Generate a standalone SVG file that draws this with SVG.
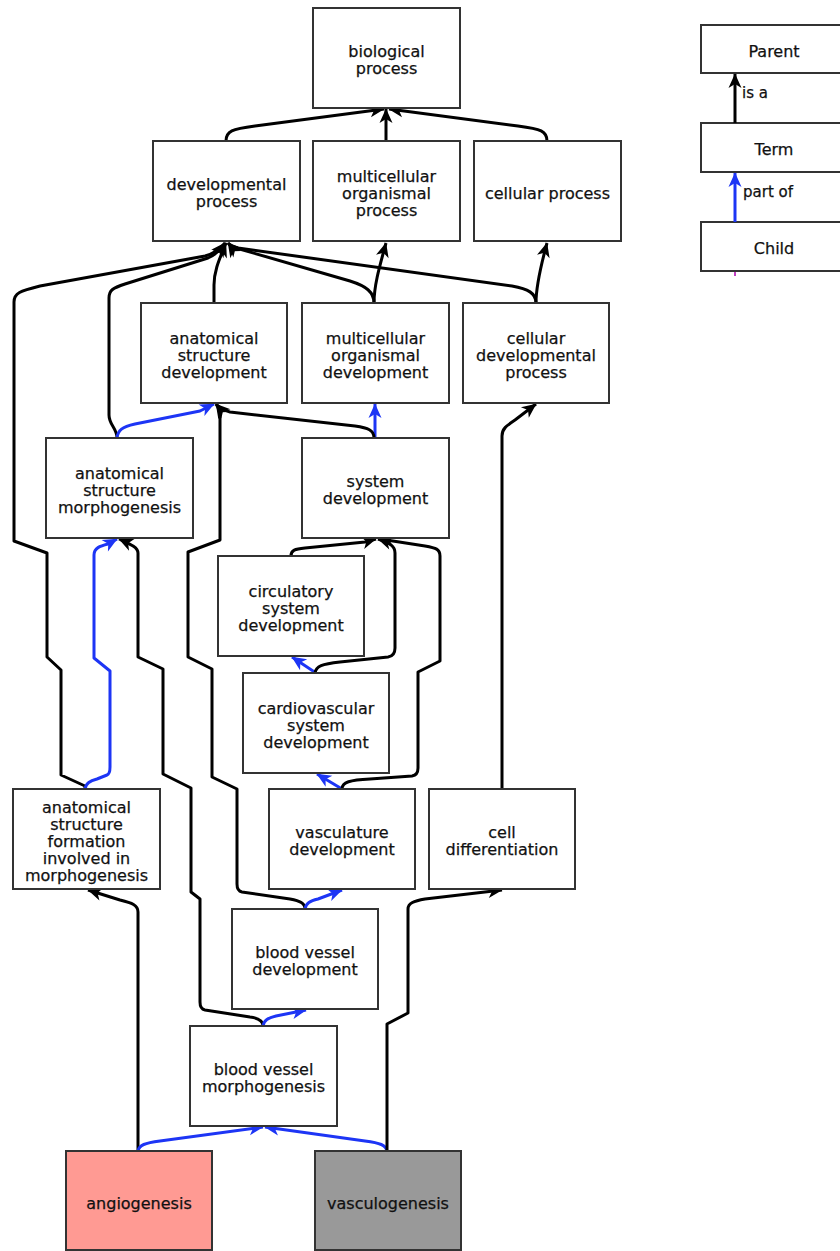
<svg xmlns="http://www.w3.org/2000/svg" width="840" height="1251" viewBox="0 0 840 1251">
<style>
.box{fill:#fff;stroke:#333;stroke-width:2}
.lbl{font-family:"DejaVu Sans","Liberation Sans",sans-serif;font-size:16px;fill:#111;stroke:#111;stroke-width:0.25;text-anchor:middle}
.leg{font-family:"DejaVu Sans","Liberation Sans",sans-serif;font-size:15px;fill:#111;stroke:#111;stroke-width:0.25}
.isa{fill:none;stroke:#000;stroke-width:3;stroke-linejoin:round;marker-end:url(#ab)}
.partof{fill:none;stroke:#1d35f5;stroke-width:3;stroke-linejoin:round;marker-end:url(#au)}
</style>
<defs>
<marker id="ab" viewBox="-15 -8 16 16" refX="0" refY="0" markerWidth="16" markerHeight="16" markerUnits="userSpaceOnUse" orient="auto">
<path d="M0.5,0 L-14,-6.5 L-10,0 L-14,6.5 Z" fill="#000"/>
</marker>
<marker id="au" viewBox="-15 -8 16 16" refX="0" refY="0" markerWidth="16" markerHeight="16" markerUnits="userSpaceOnUse" orient="auto">
<path d="M0.5,0 L-14,-6.5 L-10,0 L-14,6.5 Z" fill="#1d35f5"/>
</marker>
</defs>

<g id="connectors">
<path class="isa" d="M226,141 C226,131 232,129 255,126 L384,109"/>
<path class="isa" d="M386,141 L386,109"/>
<path class="isa" d="M547,141 C547,131 541,129 518,126 L389,109"/>
<path class="isa" d="M214,303 L214,285 C214,270 220,258 226,243"/>
<path class="isa" d="M374,303 C374,285 380,265 386,243"/>
<path class="isa" d="M374,303 C374,292 366,286 350,281 L236,248 Q230,246 228,243"/>
<path class="isa" d="M536,303 C536,285 541,265 547,243"/>
<path class="isa" d="M536,303 C536,293 528,289 512,286 L238,248 Q231,246 228,243"/>
<path class="isa" d="M85,789 L85,786 L61,775 L61,670 L47,657 L47,553 L14,541 L14,302 C14,293 20,291 40,286 L205,256 Q217,253 225,243"/>
<path class="isa" d="M117,438 C117,428 109,425 109,415 L109,298 C109,290 113,288 125,284 L208,258 Q219,253 226,243"/>
<path class="partof" d="M117,438 C118,430 122,427 135,424 L200,411 L214,404"/>
<path class="partof" d="M375,438 L375,404"/>
<path class="isa" d="M374,438 C374,430 368,428 355,426 L230,412 Q222,410 216,404"/>
<path class="isa" d="M291,556 C291,550 295,549 305,548 L365,542 L376,539"/>
<path class="partof" d="M316,673 L292,657"/>
<path class="isa" d="M315,673 C316,666 322,664 340,662 L388,657 Q395,656 395,648 L395,553 C395,546 390,543 378,539"/>
<path class="partof" d="M342,789 L317,774"/>
<path class="isa" d="M342,789 C342,782 350,780 370,779 L412,776 Q418,775 418,768 L418,672 L440,661 L440,556 C440,549 436,548 425,546 L380,539"/>
<path class="isa" d="M305,909 C305,903 300,901 290,899 L242,892 Q237,891 237,884 L237,789 L212,777 L212,669 L188,657 L188,552 L220,540 L220,418 Q220,410 216,404"/>
<path class="partof" d="M305,909 C306,903 310,901 318,899 L342,890"/>
<path class="isa" d="M263,1026 C263,1020 258,1018 250,1017 L205,1010 Q200,1009 200,1002 L200,899 L191,892 L191,788 L163,774 L163,669 L138,657 L138,553 C138,547 130,544 119,539"/>
<path class="partof" d="M263,1026 C264,1020 268,1018 276,1016 L306,1010"/>
<path class="partof" d="M85,789 C86,783 90,781 97,779 L107,775 Q110,774 110,767 L110,671 L94,658 L94,555 C94,548 100,546 108,544 L117,539"/>
<path class="isa" d="M138,1151 L138,912 C138,905 132,903 120,900 L88,890"/>
<path class="partof" d="M138,1151 C139,1145 145,1143 160,1141 L263,1127"/>
<path class="partof" d="M387,1151 C386,1145 380,1143 365,1141 L265,1127"/>
<path class="isa" d="M387,1151 L387,1024 L408,1013 L408,909 C408,903 414,901 425,899 L502,890"/>
<path class="isa" d="M502,789 L502,436 C502,429 506,426 515,420 L536,404"/>
</g>

<g id="n-bp"><rect class="box" x="313" y="8" width="147" height="100"/><text class="lbl" x="386.5" y="57">biological</text><text class="lbl" x="386.5" y="74">process</text></g>
<g id="n-dp"><rect class="box" x="153" y="141" width="147" height="100"/><text class="lbl" x="226.5" y="190">developmental</text><text class="lbl" x="226.5" y="207">process</text></g>
<g id="n-mop"><rect class="box" x="313" y="141" width="147" height="100"/><text class="lbl" x="386.5" y="181.5">multicellular</text><text class="lbl" x="386.5" y="198.5">organismal</text><text class="lbl" x="386.5" y="215.5">process</text></g>
<g id="n-cp"><rect class="box" x="474" y="141" width="147" height="100"/><text class="lbl" x="547.5" y="198.5">cellular process</text></g>
<g id="n-asd"><rect class="box" x="141" y="303" width="146" height="100"/><text class="lbl" x="214" y="343.5">anatomical</text><text class="lbl" x="214" y="360.5">structure</text><text class="lbl" x="214" y="377.5">development</text></g>
<g id="n-mod"><rect class="box" x="302" y="303" width="147" height="100"/><text class="lbl" x="375.5" y="343.5">multicellular</text><text class="lbl" x="375.5" y="360.5">organismal</text><text class="lbl" x="375.5" y="377.5">development</text></g>
<g id="n-cdp"><rect class="box" x="463" y="303" width="146" height="100"/><text class="lbl" x="536" y="343.5">cellular</text><text class="lbl" x="536" y="360.5">developmental</text><text class="lbl" x="536" y="377.5">process</text></g>
<g id="n-asm"><rect class="box" x="46" y="438" width="147" height="100"/><text class="lbl" x="119.5" y="478.5">anatomical</text><text class="lbl" x="119.5" y="495.5">structure</text><text class="lbl" x="119.5" y="512.5">morphogenesis</text></g>
<g id="n-sd"><rect class="box" x="302" y="438" width="147" height="100"/><text class="lbl" x="375.5" y="487">system</text><text class="lbl" x="375.5" y="504">development</text></g>
<g id="n-csd"><rect class="box" x="218" y="556" width="146" height="100"/><text class="lbl" x="291" y="596.5">circulatory</text><text class="lbl" x="291" y="613.5">system</text><text class="lbl" x="291" y="630.5">development</text></g>
<g id="n-cvsd"><rect class="box" x="243" y="673" width="146" height="100"/><text class="lbl" x="316" y="713.5">cardiovascular</text><text class="lbl" x="316" y="730.5">system</text><text class="lbl" x="316" y="747.5">development</text></g>
<g id="n-asf"><rect class="box" x="13" y="789" width="147" height="100"/><text class="lbl" x="86.5" y="812.5">anatomical</text><text class="lbl" x="86.5" y="829.5">structure</text><text class="lbl" x="86.5" y="846.5">formation</text><text class="lbl" x="86.5" y="863.5">involved in</text><text class="lbl" x="86.5" y="880.5">morphogenesis</text></g>
<g id="n-vd"><rect class="box" x="269" y="789" width="146" height="100"/><text class="lbl" x="342" y="838">vasculature</text><text class="lbl" x="342" y="855">development</text></g>
<g id="n-cd"><rect class="box" x="429" y="789" width="146" height="100"/><text class="lbl" x="502" y="838">cell</text><text class="lbl" x="502" y="855">differentiation</text></g>
<g id="n-bvd"><rect class="box" x="232" y="909" width="146" height="100"/><text class="lbl" x="305" y="958">blood vessel</text><text class="lbl" x="305" y="975">development</text></g>
<g id="n-bvm"><rect class="box" x="190" y="1026" width="147" height="100"/><text class="lbl" x="263.5" y="1075">blood vessel</text><text class="lbl" x="263.5" y="1092">morphogenesis</text></g>
<g id="n-ang"><rect class="box" x="66" y="1151" width="146" height="99" style="fill:#ff9a93"/><text class="lbl" x="139" y="1208.5">angiogenesis</text></g>
<g id="n-vas"><rect class="box" x="315" y="1151" width="146" height="99" style="fill:#999999"/><text class="lbl" x="388" y="1208.5">vasculogenesis</text></g>

<g id="legend">
<g id="l-parent"><rect class="box" x="701" y="25" width="150" height="48"/><text class="lbl" x="774" y="56.5">Parent</text></g>
<g id="l-term"><rect class="box" x="701" y="123" width="150" height="49"/><text class="lbl" x="774" y="155">Term</text></g>
<g id="l-child"><rect class="box" x="701" y="222" width="150" height="49"/><text class="lbl" x="774" y="254">Child</text></g>
<g id="l-connectors">
<path class="isa" d="M735,123 L735,74"/>
<path class="partof" d="M735,222 L735,173"/>
<line x1="735" y1="272" x2="735" y2="276" stroke="#c040c0" stroke-width="2"/>
</g>
<text class="leg" x="742" y="98">is a</text>
<text class="leg" x="743" y="197">part of</text>
</g>
</svg>
